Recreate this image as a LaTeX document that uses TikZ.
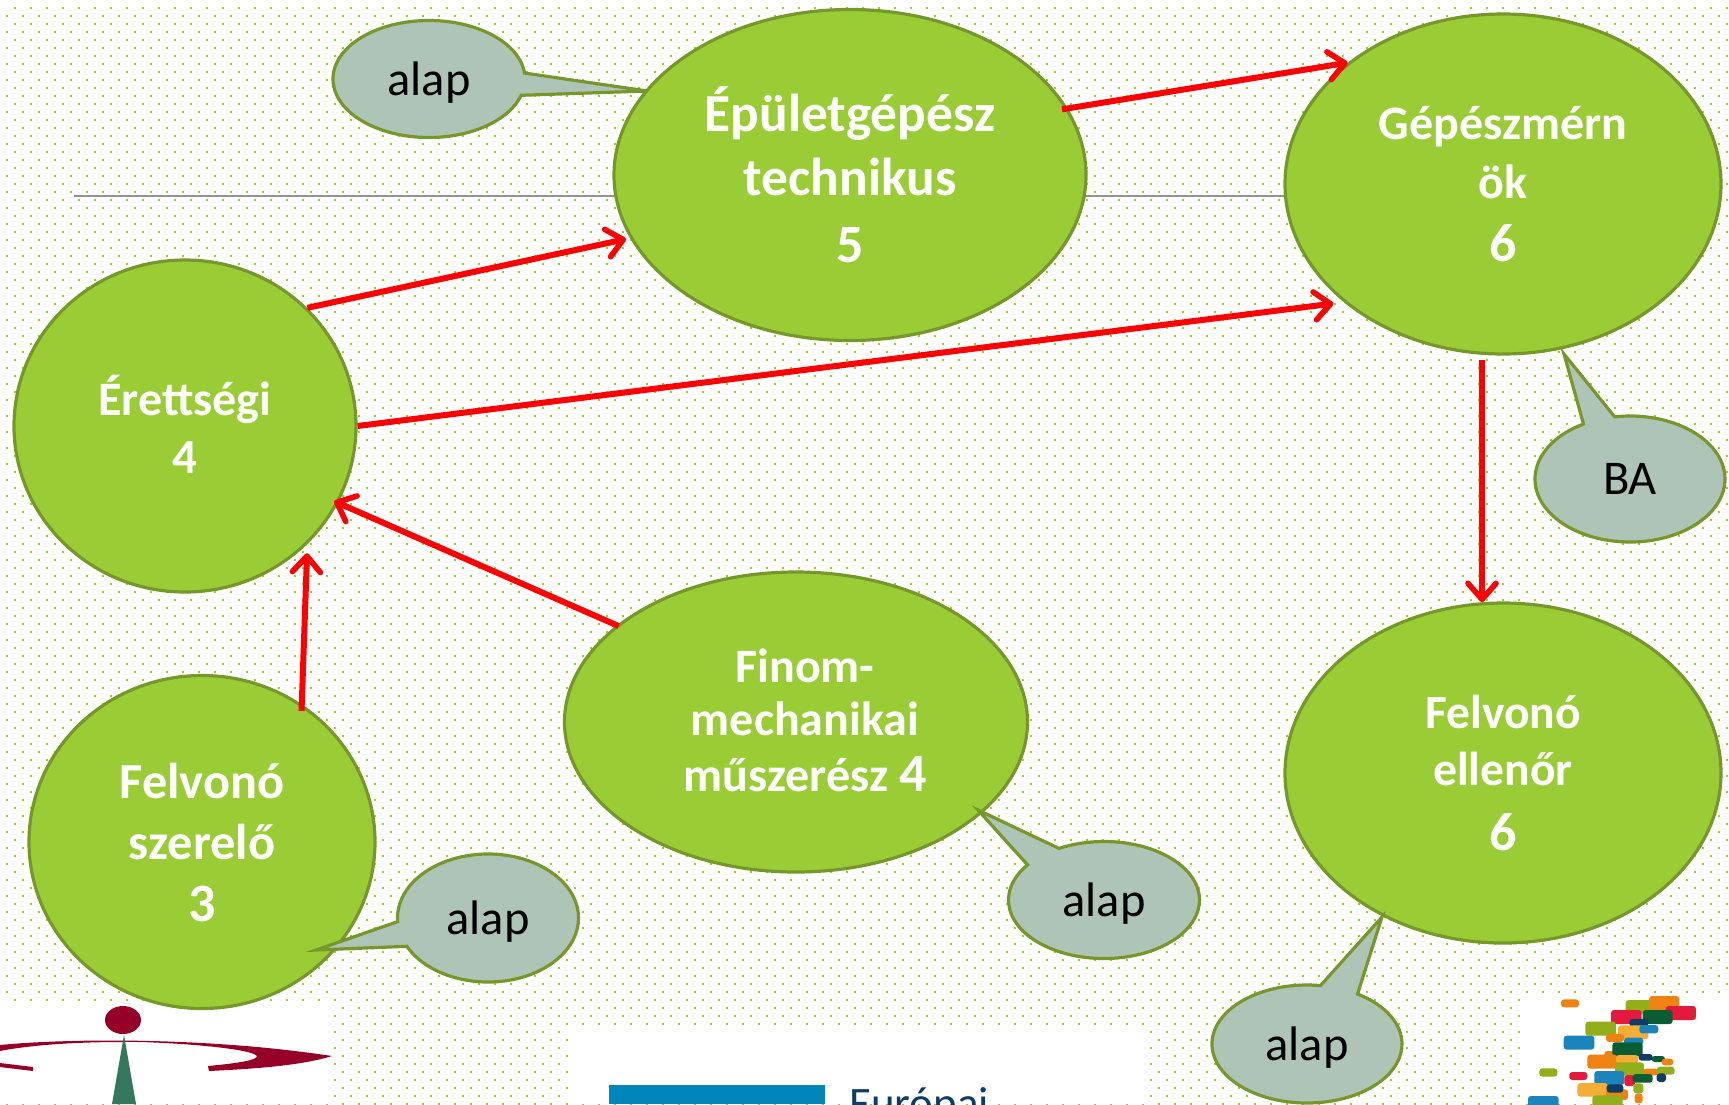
\documentclass[tikz,border=0pt]{standalone}
\usepackage{fontspec}
\setmainfont{Carlito}
\usetikzlibrary{shapes.geometric,shapes.callouts,arrows.meta}
\definecolor{leaf}{HTML}{9ACD35}
\definecolor{edge}{HTML}{76982A}
\definecolor{bub}{HTML}{AEC4B6}
\definecolor{wine}{HTML}{960028}
\definecolor{teal2}{HTML}{33775F}
\definecolor{eub}{HTML}{0086BA}
\definecolor{lgO}{HTML}{EE8212}
\definecolor{lgL}{HTML}{93AE1B}
\definecolor{lgR}{HTML}{E31A3C}
\definecolor{lgG}{HTML}{0A5C32}
\definecolor{lgN}{HTML}{0F3C66}
\definecolor{lgY}{HTML}{F4AE35}
\definecolor{lgB}{HTML}{1C84BD}
\tikzset{
  big/.style={ellipse,draw=edge,fill=leaf,line width=3.2pt,inner sep=0pt,align=center,text=white},
  bubble/.style={ellipse callout,draw=edge,fill=bub,line width=3.2pt,inner sep=0pt,text=black,font=\fontsize{48.5}{54}\selectfont},
  flow/.style={draw=red,line width=6pt,-{Straight Barb[length=16pt,width=28pt,line width=5.6pt,round]}},
  lg/.style={rounded corners=3pt}
}
\newcommand{\lr}[5]{\fill[lg,#5] (#1,#2) rectangle (#3,#4);}
\newcommand{\dg}[1]{{\fontsize{54}{60}\selectfont #1}}
\newcommand{\up}[2]{\raisebox{#1pt}{#2}}
\begin{document}
\begin{tikzpicture}[x=1pt,y=-1pt]
\useasboundingbox (0,0) rectangle (1729,1104);
\clip (0,0) rectangle (1729,1104);
\fill[white] (0,0) rectangle (1729,1104);
% dotted background
\foreach \r in {0,...,69}{
  \draw[leaf,line width=2pt,dash pattern=on 2pt off 14pt,dash phase=2pt] (0,{\r*16+7.5}) -- (1729,{\r*16+7.5});
  \draw[leaf,line width=2pt,dash pattern=on 2pt off 14pt,dash phase=10pt] (0,{\r*16+15.5}) -- (1729,{\r*16+15.5});
}
% logo backgrounds
\fill[white] (0,1006) rectangle (333,1104);
\fill[white] (571,1028) rectangle (1147,1104);
\fill[white] (1522,996) rectangle (1729,1104);
% left logo
\fill[wine] (123,1020) ellipse (18pt and 14pt);
\fill[wine] (0,1045) .. controls (60,1039) and (200,1036) .. (332,1056) .. controls (300,1066) and (250,1069) .. (209,1071) -- (208,1066) .. controls (240,1063) and (257,1060) .. (257,1056) .. controls (250,1047) and (150,1041) .. (123,1042) .. controls (60,1042) and (20,1047) .. (0,1051) -- cycle;
\fill[wine] (0,1063) -- (33,1067) -- (33,1071) -- (0,1067) -- cycle;
\fill[teal2] (124,1035) -- (136,1104) -- (112,1104) -- cycle;
% middle logo
\fill[eub] (609,1085) rectangle (825,1104);
\node[anchor=base west,inner sep=0pt,text=lgN,font=\fontsize{45}{50}\selectfont] (eu) at (849,1118) {Európai};
% right logo
\begin{scope}[shift={(1480,970)},x=0.3333pt,y=-0.3333pt]
\lr{243}{88}{297}{112}{lgO}
\lr{437}{90}{530}{130}{lgL}
\lr{507}{78}{598}{122}{lgO}
\lr{393}{120}{485}{162}{lgR}
\lr{557}{108}{648}{150}{lgR}
\lr{488}{120}{578}{162}{lgG}
\lr{448}{147}{505}{170}{lgN}
\lr{316}{155}{408}{197}{lgL}
\lr{414}{166}{505}{208}{lgY}
\lr{478}{165}{535}{190}{lgB}
\lr{378}{192}{432}{216}{lgO}
\lr{251}{197}{343}{239}{lgB}
\lr{432}{203}{490}{225}{lgB}
\lr{373}{243}{408}{280}{lgO}
\lr{397}{217}{488}{259}{lgG}
\lr{322}{254}{412}{296}{lgO}
\lr{408}{255}{475}{280}{lgY}
\lr{476}{252}{518}{272}{lgN}
\lr{515}{258}{555}{276}{lgG}
\lr{545}{266}{580}{286}{lgO}
\lr{405}{277}{492}{317}{lgL}
\lr{490}{296}{535}{316}{lgO}
\lr{530}{290}{584}{314}{lgL}
\lr{178}{295}{232}{320}{lgL}
\lr{268}{306}{322}{330}{lgR}
\lr{343}{303}{433}{345}{lgB}
\lr{433}{315}{465}{348}{lgR}
\lr{458}{312}{518}{338}{lgG}
\lr{530}{310}{558}{336}{lgN}
\lr{292}{339}{383}{380}{lgY}
\lr{378}{358}{444}{390}{lgO}
\lr{380}{343}{430}{368}{lgN}
\lr{460}{340}{490}{370}{lgL}
\lr{464}{370}{488}{400}{lgO}
\lr{144}{378}{236}{420}{lgB}
\lr{337}{376}{428}{418}{lgL}
\end{scope}
% thin rule
\coordinate (ruleL) at (74,196);
\coordinate (ruleR) at (1400,196);
\draw[gray!85,line width=1.2pt] (ruleL) -- (ruleR);
% main ellipses
\node[big,minimum width=472pt,minimum height=331pt,font=\bfseries\fontsize{53.4}{64}\selectfont] (ep) at (850,175) {\up{4}{Épületgépész}\\\up{4}{technikus}\\\up{1}{\dg{5}}};
\node[big,minimum width=436pt,minimum height=340pt,font=\bfseries\fontsize{48}{60}\selectfont] (gm) at (1503,184) {\up{1}{Gépészmérn}\\\up{2}{ök}\\\up{-1}{\dg{6}}};
\node[big,minimum width=342pt,minimum height=332pt,font=\bfseries\fontsize{48}{56}\selectfont] (er) at (185,426) {\up{6}{Érettségi}\\\up{4}{\fontsize{49}{56}\selectfont 4}};
\node[big,minimum width=346pt,minimum height=333pt,font=\bfseries\fontsize{50.4}{61}\selectfont] (fs) at (202,842) {\up{1}{Felvonó}\\\up{1}{szerelő}\\\dg{3}};
\node[big,minimum width=463pt,minimum height=300pt,font=\bfseries\fontsize{48}{54}\selectfont] (fi) at (796,722) {\hspace*{18pt}\up{5}{Finom-}\\\hspace*{18pt}\up{6}{mechanikai}\\\hspace*{18pt}\up{4}{műszerész \dg{4}}};
\node[big,minimum width=436pt,minimum height=340pt,font=\bfseries\fontsize{47.6}{59}\selectfont] (fe) at (1503,773) {\up{1}{Felvonó}\\\up{3}{ellenőr}\\\up{-3}{\dg{6}}};
% callouts
\node[bubble,text depth=0pt,callout pointer arc=22,minimum width=192pt,minimum height=117pt,callout absolute pointer={(647,91)}] (b1) at (429,79) {alap};
\node[bubble,callout pointer arc=20,minimum width=190pt,minimum height=126pt,callout absolute pointer={(1564,354)}] (b2) at (1630,479) {BA};
\node[bubble,text depth=0pt,callout pointer arc=25,minimum width=191pt,minimum height=117pt,callout absolute pointer={(978,810)}] (b3) at (1104,900) {alap};
\node[bubble,text depth=0pt,callout pointer arc=23,minimum width=181pt,minimum height=128pt,callout absolute pointer={(316,950)}] (b4) at (488,918) {alap};
\node[bubble,text depth=0pt,callout pointer arc=24,minimum width=190pt,minimum height=118pt,callout absolute pointer={(1382,917)}] (b5) at (1307,1044) {alap};
% arrows
\draw[flow,shorten <=-6pt] (ep.17) -- (gm.142);
\draw[flow] (er.44) -- ([xshift=-4pt,yshift=-1pt]ep.196);
\draw[flow] (er.0) -- ([xshift=-6pt,yshift=-5pt]gm.215);
\draw[flow,shorten <=5pt] (gm.263) -- (fe.97);
\draw[flow] ([xshift=3pt]fi.152) -- ([xshift=-5pt]er.-26);
\draw[flow] ([xshift=-3pt,yshift=-5pt]fs.53) -- ([xshift=4pt,yshift=-5pt]er.-46);
\end{tikzpicture}
\end{document}
